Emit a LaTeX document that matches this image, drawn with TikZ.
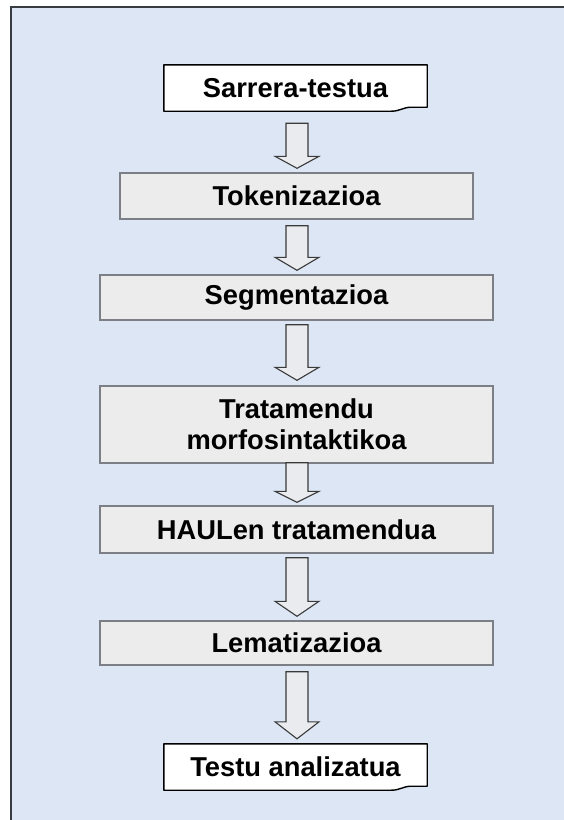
\documentclass[tikz,border=0pt]{standalone}
\usepackage{fontspec}
\setmainfont{Liberation Sans}
\usetikzlibrary{calc}

\definecolor{panelblue}{HTML}{DCE6F5}
\definecolor{framegray}{HTML}{383C41}
\definecolor{boxfill}{HTML}{ECECEC}
\definecolor{boxline}{HTML}{7C8086}
\definecolor{arrowfill}{HTML}{E9EBEE}
\definecolor{arrowline}{HTML}{3A3A3A}

\tikzset{
  label font/.style={font=\fontsize{27.3}{31}\selectfont\bfseries, text=black, align=center},
  processbox/.style={label font, draw=boxline, line width=1.4pt, fill=boxfill,
    minimum width=393pt, inner sep=0pt},
  docbox/.style={label font, minimum width=263pt, inner sep=0pt},
  docline/.style={draw=black, line width=1.4pt, fill=white, line join=round},
  blockarrow/.style={draw=arrowline, line width=1.1pt, fill=arrowfill, line join=miter},
}

% document shape with the small wave at its lower right corner
\newcommand\docoutline[1]{%
  \path[docline] (#1.north west) -- (#1.north east)
    -- ($(#1.south east)+(0,-4)$) -- ($(#1.south east)+(-16,-4)$)
    .. controls ($(#1.south east)+(-24,-4)$) and ($(#1.south east)+(-27,0)$)
    .. ($(#1.south east)+(-36,0)$) -- (#1.south west) -- cycle;}

% hollow block arrow from one step to the next
% #1 source, #2 target, #3 gap below source, #4 gap above target, #5 head length
\newcommand\flowarrow[5]{%
  \path[blockarrow] let \p1=($(#1.south)+(0,#3)$), \p2=($(#2.north)+(0,-#4)$) in
    (297pt-11pt,\y1) -- (297pt+11pt,\y1) -- (297pt+11pt,\y2+#5pt) -- (297pt+22pt,\y2+#5pt)
    -- (297pt,\y2) -- (297pt-22pt,\y2+#5pt) -- (297pt-11pt,\y2+#5pt) -- cycle;}

\begin{document}
\begin{tikzpicture}[x=1pt,y=-1pt]
  \useasboundingbox (0,0) rectangle (564,820);
  \fill[white] (0,0) rectangle (564,820);
  % panel
  \fill[panelblue] (11,7) rectangle (564,820);
  \draw[framegray, line width=2pt] (11,820) -- (11,7) -- (564,7);

  % steps
  \node[docbox, minimum height=46pt] (sar) at (295.5,88) {};
  \docoutline{sar}
  \node[label font] at (sar.center) {Sarrera-testua};

  \node[processbox, minimum width=353pt, minimum height=46pt] (tok) at (296.5,196) {Tokenizazioa};
  \node[processbox, minimum height=45pt] (seg) at (296.5,297.5) {Segmentazioa};
  \node[processbox, minimum height=77pt] (trat) at (296.5,424.5) {Tratamendu\\morfosintaktikoa};
  \node[processbox, minimum height=47pt] (haul) at (296.5,529.5) {HAULen tratamendua};
  \node[processbox, minimum height=44pt] (lem) at (296.5,643) {Lematizazioa};

  \node[docbox, minimum height=46pt] (testu) at (295.5,767) {};
  \docoutline{testu}
  \node[label font] at (testu.center) {Testu analizatua};

  % connectors
  \flowarrow{sar}{tok}{12}{4}{12}
  \flowarrow{tok}{seg}{6}{4}{13}
  \flowarrow{seg}{trat}{4}{5}{13}
  \flowarrow{trat}{haul}{-1}{3}{11}
  \flowarrow{haul}{lem}{4}{4}{15}
  \flowarrow{lem}{testu}{6}{5}{17}
\end{tikzpicture}
\end{document}
